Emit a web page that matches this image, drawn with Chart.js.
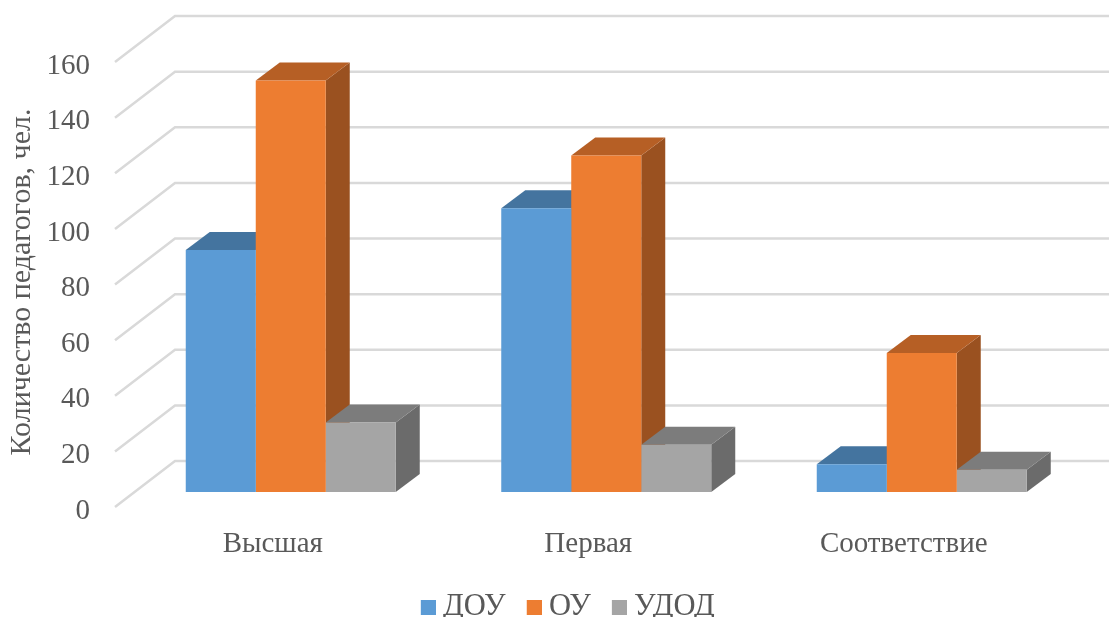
<!DOCTYPE html>
<html>
<head>
<meta charset="utf-8">
<script src="https://cdn.jsdelivr.net/npm/chart.js@4"></script>
<style>
  html, body { margin: 0; background: #fff; }
  #wrap { width: 1109px; height: 617px; }
</style>
</head>
<body>
<div id="wrap"><canvas id="qualChart"></canvas></div>
<script>
const categories = ['Высшая', 'Первая', 'Соответствие'];
const dou = [87, 102, 10];
const ou = [148, 121, 50];
const udod = [25, 17, 8];
const yTicks = [0, 20, 40, 60, 80, 100, 120, 140, 160];

const FONT = '"Liberation Serif"';
const TEXT = '#595959';
const fronts = { 'ДОУ': '#5b9bd5', 'ОУ': '#ed7d31', 'УДОД': '#a5a5a5' };
const shades = {
    'ДОУ': { top: '#44749f', side: '#3a6691' },
    'ОУ': { top: '#b65f25', side: '#9a5120' },
    'УДОД': { top: '#7c7c7c', side: '#6b6b6b' }
};

// tick labels hang a little below where the wall lines start
const labelDrop = 4;
const wall = { dx: 60, dy: 46 };
const depth = { dx: 24, dy: 18 };
const shift = { x: 18, y: -19 };

// legend squares sit closer to their text than the plugin's gap allows
function swatch(color) {
    const c = document.createElement('canvas');
    c.width = 17;
    c.height = 15;
    const g = c.getContext('2d');
    g.fillStyle = color;
    g.fillRect(2, 0, 15, 15);
    return c;
}

const fake3d = {
    id: 'fake3d',
    afterLayout(chart) {
        chart.legend.left += 40;
        chart.legend.right += 40;
        chart.legend.top -= 8;
        chart.legend.bottom -= 8;
    },
    beforeDatasetsDraw(chart) {
        const { ctx, scales: { y } } = chart;
        ctx.save();
        ctx.strokeStyle = '#d9d9d9';
        ctx.lineWidth = 2.5;
        yTicks.forEach(t => {
            const py = y.getPixelForValue(t) - labelDrop;
            ctx.beginPath();
            ctx.moveTo(y.right, py);
            ctx.lineTo(y.right + wall.dx, py - wall.dy);
            ctx.lineTo(chart.width, py - wall.dy);
            ctx.stroke();
        });
        ctx.restore();

        ctx.save();
        ctx.translate(shift.x, shift.y);
        chart.data.datasets.forEach((ds, i) => {
            chart.getDatasetMeta(i).data.forEach(bar => {
                const l = bar.x - bar.width / 2;
                const r = bar.x + bar.width / 2;
                ctx.fillStyle = shades[ds.label].side;
                ctx.beginPath();
                ctx.moveTo(r, bar.y);
                ctx.lineTo(r + depth.dx, bar.y - depth.dy);
                ctx.lineTo(r + depth.dx, bar.base - depth.dy);
                ctx.lineTo(r, bar.base);
                ctx.closePath();
                ctx.fill();
                ctx.fillStyle = shades[ds.label].top;
                ctx.beginPath();
                ctx.moveTo(l, bar.y);
                ctx.lineTo(l + depth.dx, bar.y - depth.dy);
                ctx.lineTo(r + depth.dx, bar.y - depth.dy);
                ctx.lineTo(r, bar.y);
                ctx.closePath();
                ctx.fill();
            });
        });
    },
    afterDatasetsDraw(chart) {
        chart.ctx.restore();
    },
    afterDraw(chart) {
        const ctx = chart.ctx;
        ctx.save();
        ctx.translate(22, 282);
        ctx.rotate(-Math.PI / 2);
        ctx.fillStyle = TEXT;
        ctx.font = '30px ' + FONT;
        ctx.textAlign = 'center';
        ctx.textBaseline = 'middle';
        ctx.fillText('Количество педагогов, чел.', 0, 0);
        ctx.restore();
    }
};

new Chart(document.getElementById('qualChart'), {
    type: 'bar',
    data: {
        labels: categories,
        datasets: [
            { label: 'ДОУ', data: dou, backgroundColor: fronts['ДОУ'], clip: false },
            { label: 'ОУ', data: ou, backgroundColor: fronts['ОУ'], clip: false },
            { label: 'УДОД', data: udod, backgroundColor: fronts['УДОД'], clip: false }
        ]
    },
    plugins: [fake3d],
    options: {
        responsive: true,
        maintainAspectRatio: false,
        animation: false,
        barPercentage: 1,
        categoryPercentage: 0.6656,
        layout: { padding: { top: 66, right: 47.5, bottom: -23.6, left: 0 } },
        plugins: {
            legend: {
                position: 'bottom',
                labels: {
                    usePointStyle: true,
                    pointStyleWidth: 1,
                    padding: 27,
                    color: TEXT,
                    font: { family: FONT, size: 30.5 },
                    generateLabels: chart =>
                        Chart.defaults.plugins.legend.labels.generateLabels(chart).map(item => ({
                            ...item,
                            pointStyle: swatch(fronts[item.text])
                        }))
                }
            },
            tooltip: { enabled: false }
        },
        scales: {
            x: {
                grid: { display: false },
                border: { display: false },
                afterFit: s => { s.height = 62; },
                ticks: { color: TEXT, padding: 8, maxRotation: 0, font: { family: FONT, size: 29 } }
            },
            y: {
                min: 0,
                max: 160,
                afterFit: s => { s.width = 115; },
                afterBuildTicks: s => { s.ticks = yTicks.map(v => ({ value: v })); },
                grid: { display: false },
                border: { display: false },
                ticks: { color: TEXT, padding: 17, font: { family: FONT, size: 29 } }
            }
        }
    }
});
</script>
</body>
</html>
